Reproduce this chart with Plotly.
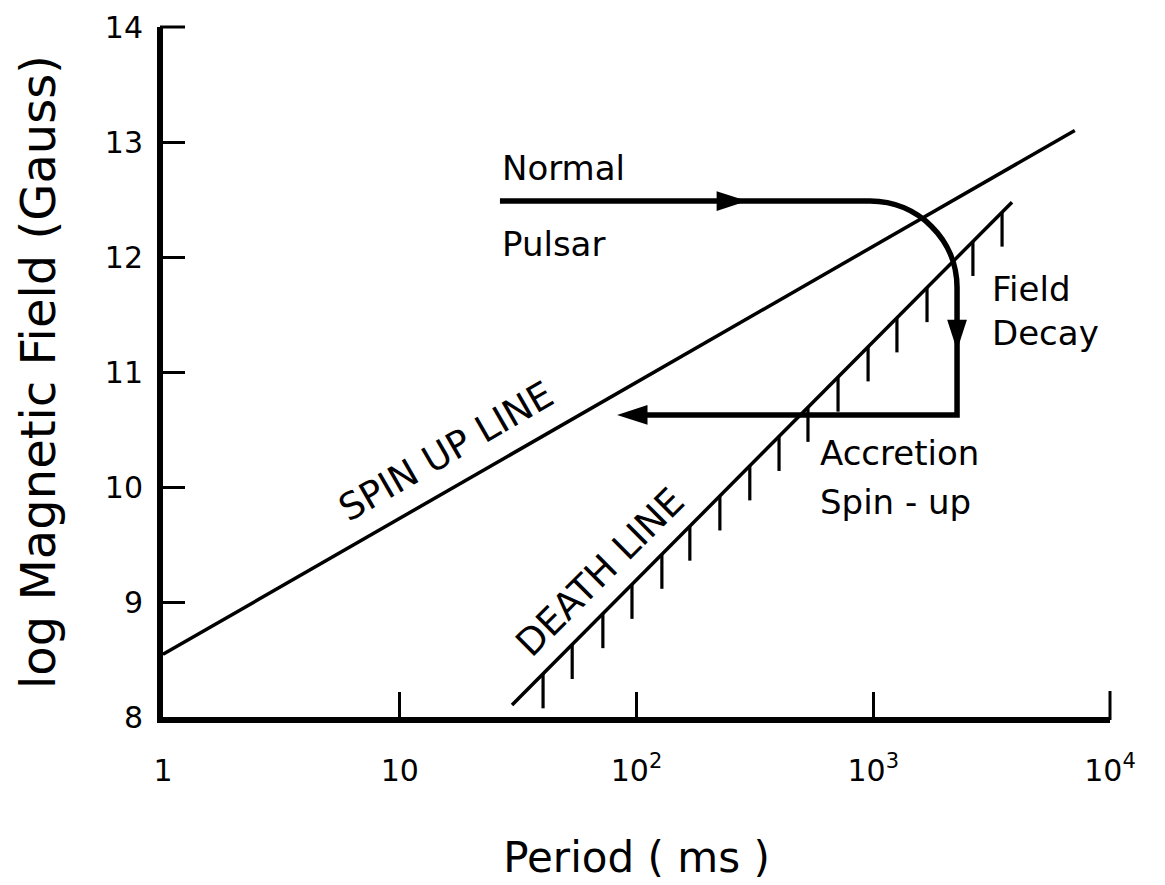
import numpy as np
import plotly.graph_objects as go

# ---------------- data ----------------
x_tick_vals = [1, 10, 100, 1000, 10000]
x_tick_text = ["1", "10", "10<sup>2</sup>", "10<sup>3</sup>", "10<sup>4</sup>"]
y_tick_vals = [8, 9, 10, 11, 12, 13, 14]
y_tick_text = ["8", "9", "10", "11", "12", "13", "14"]

# spin-up line (period in ms, log B)
spin_up_period = [1.0, 7100.0]
spin_up_logB = [8.545, 13.10]

# death line
death_period = [29.8, 3855.0]
death_logB = [8.104, 12.477]

# hatch marks hanging below the death line
hatch_period = [40.3, 53.5, 72.1, 95.7, 128, 168, 225, 301, 400, 530,
                710, 951, 1259, 1687, 2636, 3500]
hatch_length = 0.30

# evolutionary track: normal pulsar -> field decay -> accretion spin-up
track_period = [26.5, 969, 2259, 2259, 95]
track_logB = [12.486, 12.486, 11.734, 10.627, 10.627]

# arrow heads on the track (tip positions)
arrow_period = [293, 2259, 82.8]
arrow_logB = [12.486, 11.19, 10.627]
arrow_angle = [90, 180, 270]

# labels
label_text = ["Normal", "Pulsar", "Field", "Decay", "Accretion", "Spin - up"]
label_period = [26.5, 26.5, 3112, 3112, 585, 585]
label_logB = [12.775, 12.110, 11.725, 11.336, 10.295, 9.867]

line_label_text = ["SPIN UP LINE", "DEATH LINE"]
line_label_period = [15.7, 70.2]
line_label_logB = [10.31, 9.253]
line_label_angle = [-30, -45]

FONT = "DejaVu Sans"

fig = go.Figure()

# spin-up line
fig.add_trace(go.Scatter(x=spin_up_period, y=spin_up_logB, mode="lines",
                         line=dict(color="black", width=3.5),
                         showlegend=False, hoverinfo="skip"))
# death line
fig.add_trace(go.Scatter(x=death_period, y=death_logB, mode="lines",
                         line=dict(color="black", width=3.5),
                         showlegend=False, hoverinfo="skip"))

# hatches
h_top = np.interp(np.log10(hatch_period), np.log10(death_period), death_logB)
hx, hy = [], []
for p, t in zip(hatch_period, h_top):
    hx += [p, p, None]
    hy += [t, t - hatch_length, None]
fig.add_trace(go.Scatter(x=hx, y=hy, mode="lines",
                         line=dict(color="black", width=3.2),
                         showlegend=False, hoverinfo="skip"))

# track as a path with a rounded corner
lx = np.log10(track_period)
k = 0.5523
c1x = 10 ** (lx[1] + k * (lx[2] - lx[1]))
c1y = track_logB[1]
c2x = track_period[2]
c2y = track_logB[2] + k * (track_logB[1] - track_logB[2])
path = (f"M {track_period[0]},{track_logB[0]} "
        f"L {track_period[1]},{track_logB[1]} "
        f"C {c1x},{c1y} {c2x},{c2y} {track_period[2]},{track_logB[2]} "
        f"L {track_period[3]},{track_logB[3]} "
        f"L {track_period[4]},{track_logB[4]}")
fig.add_shape(type="path", path=path, xref="x", yref="y",
              line=dict(color="black", width=5.5),
              fillcolor="rgba(0,0,0,0)", layer="above")

# end ticks that Plotly drops at the axis corners (y = 14 and P = 10^4)
fig.add_shape(type="line", xref="paper", yref="paper",
              xsizemode="pixel", xanchor=0, x0=-3, x1=22, y0=1, y1=1,
              line=dict(color="black", width=3))
fig.add_shape(type="line", xref="paper", yref="paper",
              ysizemode="pixel", yanchor=0, y0=-3, y1=26, x0=1, x1=1,
              line=dict(color="black", width=3))

# arrow heads
fig.add_trace(go.Scatter(x=arrow_period, y=arrow_logB, mode="markers",
                         marker=dict(symbol="arrow", size=32, color="black",
                                     angle=arrow_angle,
                                     line=dict(width=0)),
                         showlegend=False, hoverinfo="skip"))

annotations = []
for t, p, b in zip(label_text, label_period, label_logB):
    annotations.append(dict(text=t, x=float(np.log10(p)), y=b, xref="x", yref="y",
                            xanchor="left", yanchor="middle", showarrow=False,
                            font=dict(family=FONT, size=34, color="black")))
for t, p, b, a in zip(line_label_text, line_label_period, line_label_logB,
                      line_label_angle):
    annotations.append(dict(text=t, x=float(np.log10(p)), y=b, xref="x", yref="y",
                            xanchor="center", yanchor="middle", showarrow=False,
                            textangle=a,
                            font=dict(family=FONT, size=37, color="black")))

fig.update_layout(
    width=1165, height=885,
    margin=dict(l=155, r=63, t=19, b=176, autoexpand=False),
    paper_bgcolor="white", plot_bgcolor="white",
    showlegend=False,
    annotations=annotations,
    font=dict(family=FONT, color="black"),
    xaxis=dict(type="log", range=[0, 4], automargin=False,
               tickvals=x_tick_vals, ticktext=x_tick_text,
               ticks="inside", ticklen=25, tickwidth=3, tickcolor="black",
               showline=True, linecolor="black", linewidth=6,
               showgrid=False, zeroline=False,
               tickfont=dict(family=FONT, size=30, color="black"),
               ticklabelstandoff=22, ticklabeloverflow="allow",
               title=dict(text="Period ( ms )", standoff=58,
                          font=dict(family=FONT, size=42, color="black"))),
    yaxis=dict(range=[8, 14], automargin=False,
               tickvals=y_tick_vals, ticktext=y_tick_text,
               ticks="inside", ticklen=22, tickwidth=3, tickcolor="black",
               showline=True, linecolor="black", linewidth=6,
               showgrid=False, zeroline=False,
               tickfont=dict(family=FONT, size=30, color="black"),
               ticklabelstandoff=8, ticklabeloverflow="allow",
               title=dict(text="log Magnetic Field (Gauss)", standoff=36,
                          font=dict(family=FONT, size=48, color="black"))),
)

fig.write_html("out.html")
